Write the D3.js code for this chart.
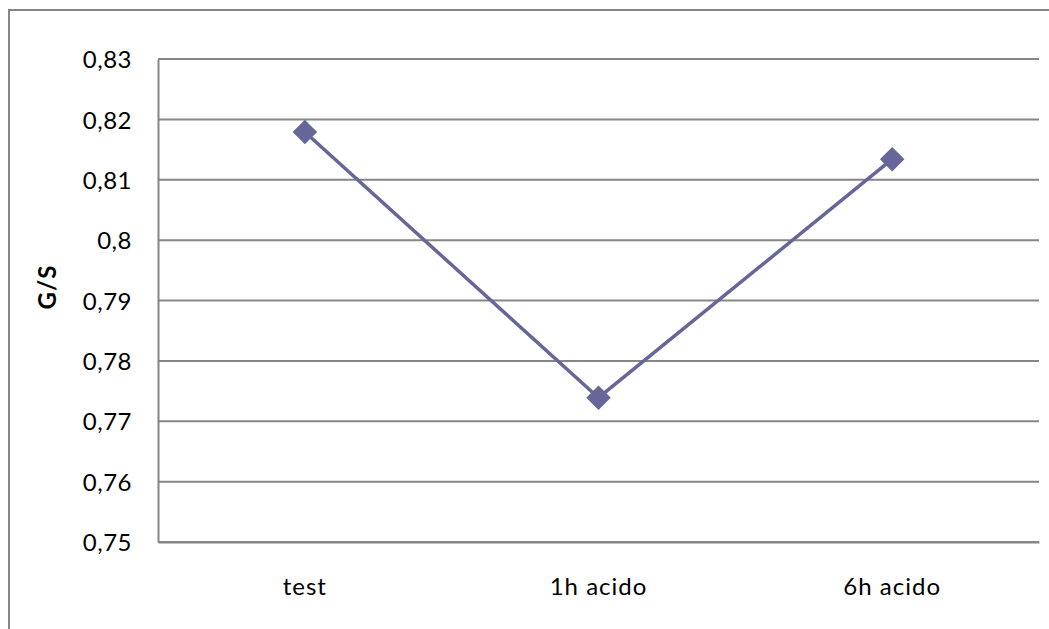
<!DOCTYPE html>
<html><head><meta charset="utf-8">
<script src="https://cdn.jsdelivr.net/npm/d3@7"></script>
<style>body{margin:0;background:#fff}svg{display:block}text{font-family:Lato,"Open Sans",sans-serif}</style>
</head><body>
<svg id="c" width="1049" height="629"></svg>
<script>
const categories = ["test", "1h acido", "6h acido"];
const values = [0.8179, 0.7739, 0.8134];
const yTicks = [0.75, 0.76, 0.77, 0.78, 0.79, 0.8, 0.81, 0.82, 0.83];
const yTickLabels = ["0,75", "0,76", "0,77", "0,78", "0,79", "0,8", "0,81", "0,82", "0,83"];
const yTitle = "G/S";

const svg = d3.select("#c");
const L = 158, R = 1039, T = 59, B = 542;
const x = d3.scaleBand().domain(categories).range([L, R]);
const y = d3.scaleLinear().domain([0.75, 0.83]).range([B, T]);
const grey = "#868686", col = "#666699";

// outer chart border (only left/top visible)
svg.append("rect").attr("x", 9).attr("y", 10).attr("width", 1060).attr("height", 640)
  .attr("fill", "none").attr("stroke", grey).attr("stroke-width", 2);

// gridlines
svg.append("g").selectAll("line").data(yTicks).join("line")
  .attr("x1", L).attr("x2", R).attr("y1", d => y(d)).attr("y2", d => y(d))
  .attr("stroke", grey).attr("stroke-width", 2);

// y axis
const yAxis = d3.axisLeft(y).tickValues(yTicks).tickFormat((d, i) => yTickLabels[i]).tickSize(0).tickPadding(26);
const ga = svg.append("g").attr("transform", `translate(${L},0)`).call(yAxis);
ga.select(".domain").attr("stroke", grey).attr("stroke-width", 2);
ga.selectAll("text").attr("font-size", 24).attr("fill", "#000").attr("dy", "0.36em").attr("letter-spacing", "0.5px");

// x axis
const xAxis = d3.axisBottom(x).tickSize(0).tickPadding(36);
const gx = svg.append("g").attr("transform", `translate(0,${B})`).call(xAxis);
gx.select(".domain").attr("stroke", grey).attr("stroke-width", 2);
gx.selectAll("text").attr("font-size", 24).attr("fill", "#000").attr("letter-spacing", "1px");

// title
svg.append("text").attr("transform", "translate(56,287) rotate(-90)")
  .attr("text-anchor", "middle").attr("font-size", 24).attr("font-weight", "bold").attr("letter-spacing", "1px").text(yTitle);

// line
const pts = categories.map((c, i) => [x(c) + x.bandwidth() / 2, y(values[i])]);
svg.append("path").attr("d", d3.line()(pts)).attr("fill", "none").attr("stroke", col).attr("stroke-width", 3.5);
svg.append("g").selectAll("path").data(pts).join("path")
  .attr("d", d3.symbol().type(d3.symbolSquare).size(300)())
  .attr("transform", d => `translate(${d[0]},${d[1]}) rotate(45)`)
  .attr("fill", col);
</script>
</body></html>
